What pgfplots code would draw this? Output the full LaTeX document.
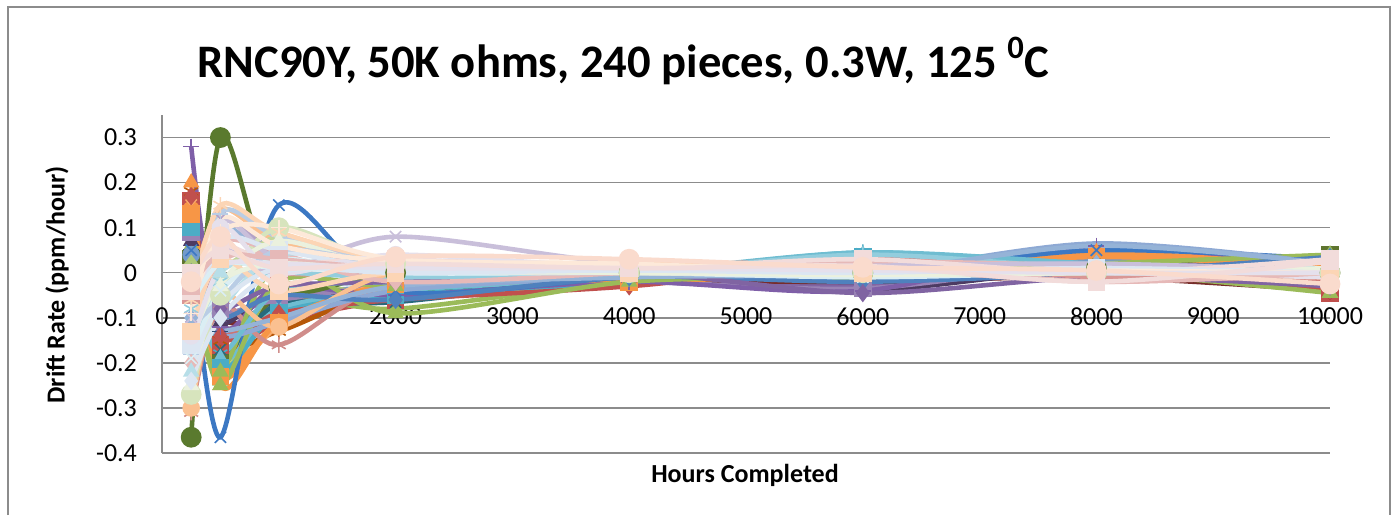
\documentclass[border=0pt]{standalone}
\usepackage{fontspec}
\setmainfont{Carlito}
\usepackage{pgfplots}
\pgfplotsset{compat=1.18}

% Office 2007 style palette
\definecolor{c1}{HTML}{4F81BD}
\definecolor{c2}{HTML}{C0504D}
\definecolor{c3}{HTML}{9BBB59}
\definecolor{c4}{HTML}{8064A2}
\definecolor{c5}{HTML}{4BACC6}
\definecolor{c6}{HTML}{F79646}
\definecolor{c7}{HTML}{2C4D75}
\definecolor{c8}{HTML}{772C2A}
\definecolor{c9}{HTML}{5F7530}
\definecolor{c10}{HTML}{4D3B62}
\definecolor{c11}{HTML}{276A7C}
\definecolor{c12}{HTML}{B65708}
\definecolor{c13}{HTML}{729ACA}
\definecolor{c14}{HTML}{CD7371}
\definecolor{c15}{HTML}{AFC97A}
\definecolor{c16}{HTML}{9983B5}
\definecolor{c17}{HTML}{6FBDD1}
\definecolor{c18}{HTML}{F9AB6B}
\definecolor{bigblue}{HTML}{3C78C3}
\definecolor{olive}{HTML}{5A7A2E}
\definecolor{violet}{HTML}{7F5FA8}
\definecolor{rose}{HTML}{D08D8B}
\definecolor{bluegrey}{HTML}{8EA9D4}
\definecolor{p1}{HTML}{95B3D7}
\definecolor{p2}{HTML}{D99694}
\definecolor{p3}{HTML}{C3D69B}
\definecolor{p4}{HTML}{B3A2C7}
\definecolor{p5}{HTML}{93CDDD}
\definecolor{p6}{HTML}{FAC090}
\definecolor{q1}{HTML}{B9CDE5}
\definecolor{q2}{HTML}{E6B9B8}
\definecolor{q3}{HTML}{D7E4BD}
\definecolor{q4}{HTML}{C9BFDA}
\definecolor{q5}{HTML}{B7DEE8}
\definecolor{q6}{HTML}{FCD5B5}
\definecolor{r1}{HTML}{DCE6F2}
\definecolor{r2}{HTML}{F2DCDB}
\definecolor{r3}{HTML}{EBF1DE}
\definecolor{r4}{HTML}{E5E0EC}
\definecolor{r5}{HTML}{DBEEF4}
\definecolor{r6}{HTML}{FDE9D9}
\definecolor{peach}{HTML}{FADBCD}
\definecolor{gridgray}{HTML}{8C8C8C}

% one piece: style, then drift at 250,500,1000,2000,4000,6000,8000,10000 h
\newcommand{\piece}[9]{\addplot[#1] coordinates {(250,#2) (500,#3) (1000,#4) (2000,#5) (4000,#6) (6000,#7) (8000,#8) (10000,#9)};}

\begin{document}
\begin{tikzpicture}[x=1pt,y=1pt]
\path[use as bounding box] (-81,-31) rectangle (616.5,226.5);
\draw[line width=1pt, gridgray] (-77,-31) -- (-77,223) -- (614,223) -- (614,-31);

\begin{axis}[
    at={(0,0)}, anchor=south west,
    scale only axis,
    width=584pt, height=169pt,
    xmin=0, xmax=10000,
    ymin=-0.4, ymax=0.35,
    xtick={0,1000,2000,3000,4000,5000,6000,7000,8000,9000,10000},
    scaled x ticks=false,
    ytick={-0.4,-0.3,-0.2,-0.1,0,0.1,0.2,0.3},
    /pgf/number format/assume math mode=true,
    /pgf/number format/1000 sep={},
    yticklabel style={/pgf/number format/fixed, /pgf/number format/precision=1, xshift=-9pt},
    xticklabel style={yshift=76pt},
    tick label style={font=\fontsize{13}{15}\selectfont},
    major tick length=0pt,
    axis lines*=left,
    axis line style={gridgray, line width=0.8pt, -},
    ymajorgrids,
    grid style={gridgray, line width=0.7pt},
    clip=false,
    every axis plot/.append style={smooth, line width=2.3pt, mark size=4pt,
        mark options={solid, line width=0.8pt}},
]
% saturated pieces (drawn first)
\piece{c1, mark=diamond*}{0.12}{-0.14}{-0.08}{-0.05}{-0.01}{0.0}{0.02}{0.03}
\piece{c2, mark=square*}{0.16}{-0.16}{-0.11}{-0.06}{-0.02}{0.01}{0.03}{-0.045}
\piece{c3, mark=triangle*}{0.06}{-0.24}{-0.06}{-0.08}{-0.02}{-0.01}{0.02}{-0.045}
\piece{c4, mark=x}{0.10}{-0.12}{-0.07}{-0.05}{-0.015}{-0.03}{0.01}{-0.01}
\piece{c5, mark=asterisk}{0.09}{-0.18}{-0.09}{-0.06}{-0.01}{0.045}{0.01}{0.0}
\piece{c6, mark=*}{0.14}{-0.20}{-0.12}{-0.03}{-0.02}{0.0}{0.04}{0.02}
\piece{c7, mark=+}{0.05}{-0.13}{-0.06}{-0.04}{-0.01}{-0.02}{0.0}{0.035}
\piece{c8, mark=diamond*}{0.08}{-0.10}{-0.10}{-0.05}{-0.02}{-0.02}{-0.01}{-0.04}
\piece{c9, mark=square*}{0.03}{-0.20}{-0.05}{-0.04}{-0.015}{-0.01}{0.01}{0.04}
\piece{c10, mark=triangle*}{0.07}{-0.11}{-0.04}{-0.05}{-0.02}{-0.04}{0.01}{0.0}
\piece{c11, mark=x}{0.11}{-0.17}{-0.07}{-0.065}{-0.01}{0.0}{0.0}{0.01}
\piece{c12, mark=asterisk}{0.18}{-0.15}{-0.13}{-0.04}{-0.015}{0.01}{0.02}{-0.01}
\piece{c13, mark=*}{0.04}{-0.09}{-0.05}{-0.03}{-0.01}{0.02}{0.03}{0.025}
\piece{c14, mark=+}{0.13}{-0.12}{-0.10}{-0.02}{0.0}{0.02}{0.0}{-0.02}
\piece{c15, mark=diamond*}{0.02}{-0.23}{-0.03}{-0.05}{-0.02}{0.0}{0.02}{-0.03}
\piece{c16, mark=square*}{0.09}{-0.08}{-0.06}{-0.03}{-0.02}{-0.035}{0.02}{0.0}
\piece{c17, mark=triangle*}{0.12}{-0.19}{-0.08}{-0.04}{-0.01}{0.04}{0.01}{0.01}
\piece{c18, mark=x}{0.15}{-0.22}{-0.12}{-0.02}{-0.01}{0.0}{0.04}{0.0}
\piece{c5, mark=square*}{0.10}{-0.21}{-0.09}{-0.05}{-0.02}{0.035}{0.0}{0.0}
\piece{c2, mark=diamond*}{0.17}{-0.14}{-0.09}{-0.06}{-0.03}{0.02}{0.01}{-0.04}
\piece{c6, mark=square*}{0.13}{-0.23}{-0.11}{-0.025}{-0.02}{0.0}{0.035}{0.01}
% stand-out pieces
\piece{violet, mark=+}{0.28}{-0.12}{-0.03}{-0.05}{-0.02}{-0.04}{0.06}{0.0}
\piece{c6, mark=triangle*}{0.20}{-0.25}{-0.11}{-0.03}{-0.015}{0.0}{0.045}{0.01}
\piece{bigblue, mark=x}{0.05}{-0.365}{0.15}{-0.04}{-0.01}{0.0}{0.05}{0.03}
\piece{olive, mark=*, mark size=4.8pt}{-0.365}{0.30}{-0.03}{0.0}{0.0}{0.0}{0.01}{0.0}
\piece{rose, mark=asterisk}{-0.31}{-0.07}{-0.16}{-0.02}{0.0}{0.03}{0.02}{-0.01}
\piece{c3, mark=triangle*}{-0.05}{-0.22}{0.02}{-0.09}{-0.02}{-0.01}{0.0}{-0.045}
\piece{c3, mark=triangle*}{0.0}{-0.25}{-0.02}{-0.03}{-0.01}{0.0}{0.02}{0.04}
\piece{bluegrey, mark=none}{-0.05}{-0.14}{-0.11}{-0.04}{-0.01}{0.0}{0.065}{0.02}
\piece{c17, mark=none}{-0.02}{-0.18}{-0.04}{-0.02}{0.0}{0.045}{0.02}{0.0}
\piece{c1, mark=diamond*}{0.0}{-0.10}{-0.05}{-0.06}{-0.01}{-0.02}{0.0}{0.035}
\piece{c4, mark=diamond*}{0.0}{-0.08}{-0.03}{-0.02}{0.0}{-0.045}{-0.01}{-0.03}
% pale pieces (drawn last, on top)
\piece{p1, mark=diamond*}{-0.10}{0.10}{0.03}{0.01}{0.0}{0.01}{0.02}{0.0}
\piece{p2, mark=square*}{-0.05}{0.05}{0.0}{0.0}{0.01}{0.03}{-0.01}{-0.01}
\piece{p3, mark=triangle*}{-0.15}{0.0}{0.06}{0.02}{0.0}{0.0}{0.01}{0.0}
\piece{p4, mark=x}{-0.12}{0.12}{0.04}{0.0}{0.0}{0.02}{0.0}{0.01}
\piece{p5, mark=asterisk}{-0.08}{-0.02}{0.0}{-0.01}{0.0}{0.04}{0.01}{0.01}
\piece{p6, mark=*}{-0.30}{-0.05}{-0.12}{0.0}{0.005}{0.0}{0.0}{-0.01}
\piece{p1, mark=none}{-0.11}{-0.13}{-0.10}{-0.03}{-0.01}{0.0}{0.06}{0.02}
\piece{p6, mark=none}{-0.04}{0.14}{0.07}{0.03}{0.015}{0.01}{0.01}{0.0}
\piece{p3, mark=none}{-0.17}{-0.04}{0.08}{0.01}{0.0}{0.0}{0.015}{0.0}
\piece{q1, mark=+}{-0.18}{0.13}{0.08}{0.02}{0.01}{0.0}{0.0}{0.0}
\piece{q2, mark=diamond*}{-0.20}{0.02}{0.04}{-0.02}{0.0}{0.02}{-0.02}{0.0}
\piece{q3, mark=*, mark size=4.8pt}{-0.27}{-0.05}{0.10}{0.02}{0.0}{0.0}{0.0}{0.0}
\piece{q4, mark=x}{-0.10}{0.05}{0.0}{0.08}{0.02}{0.02}{0.0}{0.0}
\piece{q5, mark=triangle*}{-0.22}{0.0}{0.02}{0.0}{0.0}{0.0}{0.0}{0.01}
\piece{q6, mark=asterisk}{-0.06}{0.15}{0.09}{0.03}{0.02}{0.01}{0.0}{0.0}
\piece{q5, mark=none}{-0.13}{-0.08}{0.04}{0.015}{0.005}{0.01}{0.005}{0.0}
\piece{q2, mark=none}{-0.06}{0.07}{0.05}{0.02}{0.01}{0.025}{0.015}{-0.005}
\piece{q4, mark=none}{-0.20}{0.11}{0.03}{0.01}{0.005}{0.015}{0.02}{0.005}
\piece{r1, mark=square*}{-0.16}{0.07}{0.05}{0.01}{0.0}{0.0}{0.01}{0.0}
\piece{r2, mark=square*}{-0.04}{0.06}{0.02}{0.03}{0.01}{0.03}{0.0}{0.03}
\piece{r3, mark=triangle*}{-0.25}{-0.03}{0.07}{0.01}{0.0}{0.0}{0.0}{0.0}
\piece{r4, mark=*}{-0.14}{0.10}{0.0}{0.04}{0.01}{0.0}{0.0}{-0.01}
\piece{r5, mark=x}{-0.19}{-0.04}{0.03}{0.0}{0.0}{-0.01}{0.0}{0.0}
\piece{r6, mark=+}{-0.09}{0.09}{0.10}{0.03}{0.02}{0.0}{0.0}{0.0}
\piece{q1, mark=none}{-0.12}{-0.06}{0.05}{0.02}{0.0}{0.0}{0.0}{0.0}
\piece{q2, mark=square*}{-0.03}{0.04}{0.03}{0.01}{0.0}{0.01}{-0.02}{0.0}
\piece{r1, mark=diamond*}{-0.24}{-0.10}{0.0}{0.01}{0.0}{0.0}{0.0}{0.0}
\piece{q6, mark=square*}{-0.13}{0.03}{-0.04}{0.0}{0.0}{0.0}{0.0}{0.0}
\piece{r5, mark=none}{-0.07}{0.02}{0.01}{0.005}{0.0}{0.005}{0.0}{0.005}
\piece{r3, mark=none}{-0.15}{-0.02}{0.02}{0.005}{0.0}{-0.005}{0.0}{0.01}
\piece{r1, mark=none}{-0.21}{-0.07}{0.01}{0.0}{0.005}{0.0}{0.01}{0.0}
\piece{r6, mark=none}{-0.10}{0.12}{0.06}{0.025}{0.015}{0.01}{0.005}{0.0}
\piece{r4, mark=none}{-0.17}{0.01}{0.02}{0.01}{0.01}{0.005}{0.0}{0.0}
\piece{r2, mark=square*}{0.0}{0.05}{0.01}{0.02}{0.01}{0.015}{-0.02}{0.025}
\piece{peach, mark=*, mark size=4.8pt}{-0.02}{0.08}{-0.025}{0.035}{0.03}{0.012}{0.005}{-0.025}
\end{axis}

\node[anchor=base, font=\bfseries\fontsize{23.3}{26}\selectfont] at (230.75,188) {RNC90Y, 50K ohms, 240 pieces, 0.3W, 125 \textsuperscript{0}C};
\node[rotate=90, font=\bfseries\fontsize{13}{15}\selectfont] at (-52.5,84) {Drift Rate (ppm/hour)};
\node[font=\bfseries\fontsize{13}{15}\selectfont] at (291.5,-11) {Hours Completed};
\end{tikzpicture}
\end{document}
